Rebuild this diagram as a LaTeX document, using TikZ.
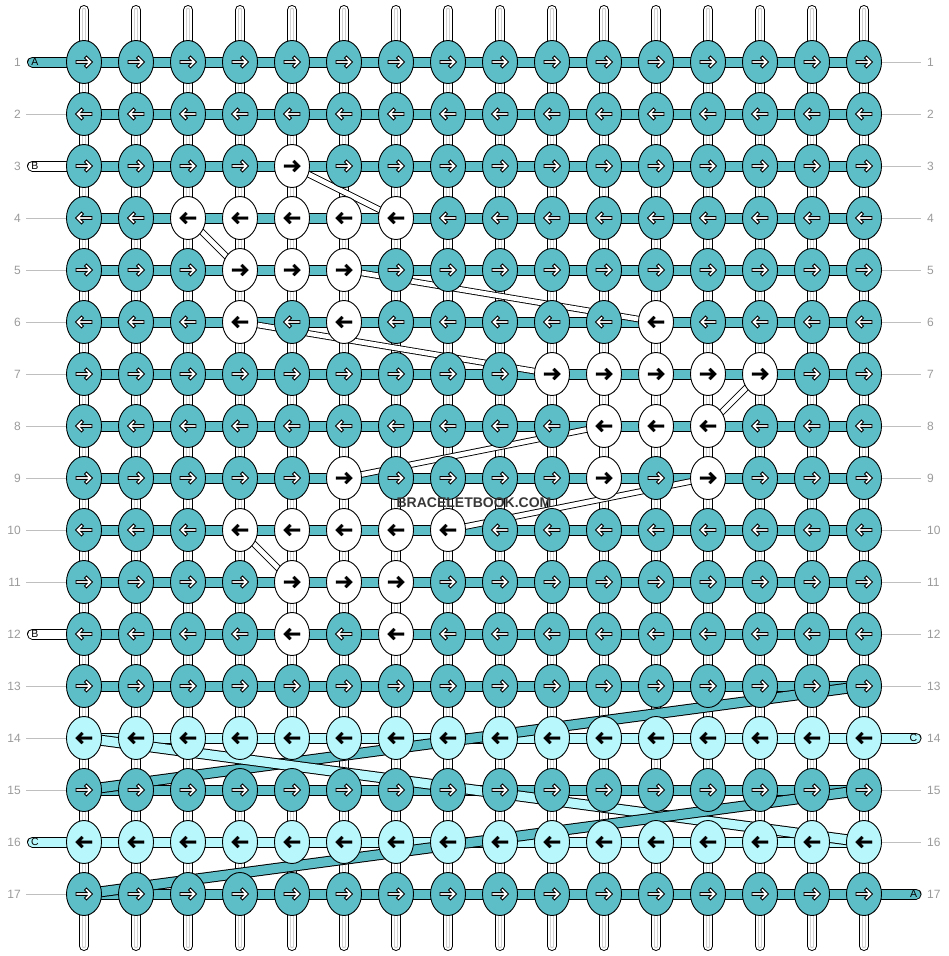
\documentclass[tikz,border=0pt]{standalone}
\usepackage{fontspec}
\setmainfont{Liberation Sans}
\usetikzlibrary{shapes.geometric,backgrounds}
\definecolor{knotteal}{HTML}{5EBEC8}
\definecolor{knotlight}{HTML}{B8F8FC}
\definecolor{numgrey}{HTML}{9A9A9A}
\tikzset{
  knot/.style={ellipse, draw=black, line width=0.9pt, minimum width=35pt, minimum height=43pt, inner sep=0pt},
  warp/.style={line width=10pt, line cap=round, black,
    postaction={draw=white, line width=8pt, line cap=round},
    postaction={draw=black!18, line width=4.6pt, line cap=round},
    postaction={draw=white, line width=2.6pt, line cap=round}},
  bar/.style={line width=11pt, black, postaction={draw=#1, line width=9pt}},
  tagbar/.style={line width=11pt, line cap=round, black, postaction={draw=#1, line width=9pt, line cap=round}},
  band/.style={line width=11pt, black, postaction={draw=#1, line width=9pt}},
  carry/.style={line width=6.5pt, black, postaction={draw=white, line width=4.7pt}},
  leader/.style={draw=black!25, line width=0.9pt},
  rownum/.style={text=numgrey, font=\fontsize{12}{12}\selectfont, inner sep=0pt},
  tag/.style={font=\fontsize{10.5}{10.5}\selectfont, inner sep=0pt},
  pics/fwd/.style={code={
    \filldraw[fill=#1, draw=black, line join=miter]
      (-8,-1.4) -- (3.14,-1.4) -- (0.52,-4.02) -- (2.5,-6) -- (8.5,0) -- (2.5,6) -- (0.52,4.02) -- (3.14,1.4) -- (-8,1.4) -- cycle;}}
}
\begin{document}
\begin{tikzpicture}[x=1pt,y=-1pt]
\useasboundingbox (0,0) rectangle (948,956);
\foreach \r/\base/\acol/\w in {1/knotteal/white/0, 2/knotteal/white/0, 3/knotteal/white/5,
    4/knotteal/white/{3,4,5,6,7}, 5/knotteal/white/{4,5,6}, 6/knotteal/white/{4,6,12},
    7/knotteal/white/{10,11,12,13,14}, 8/knotteal/white/{11,12,13}, 9/knotteal/white/{6,11,13},
    10/knotteal/white/{4,5,6,7,8}, 11/knotteal/white/{5,6,7}, 12/knotteal/white/{5,7},
    13/knotteal/white/0, 14/knotlight/black/0, 15/knotteal/white/0, 16/knotlight/black/0, 17/knotteal/white/0}{
  \foreach \col in {1,...,16}{
    \xdef\kfill{\base}\xdef\afill{\acol}\xdef\awid{0.9pt}
    \foreach \x in \w {\ifnum\x=\col\relax \xdef\kfill{white}\xdef\afill{black}\fi}
    \if b\afill\xdef\awid{0.2pt}\fi
    \node[knot, fill=\kfill] (k-\r-\col) at ({84+52*(\col-1)},{62+52*(\r-1)}) {};
    \ifodd\r \pic[line width=\awid] at (k-\r-\col) {fwd=\afill};
    \else \pic[xscale=-1, line width=\awid] at (k-\r-\col) {fwd=\afill}; \fi
  }
  \node[rownum, anchor=east] (nl-\r) at (21,{62+52*(\r-1)}) {\r};
  \node[rownum, anchor=west] (nr-\r) at (927,{62+52*(\r-1)}) {\r};
}
\foreach \r/\t in {1/A, 3/B, 12/B, 16/C}{
  \coordinate (tl-\r) at (32.5,{62+52*(\r-1)});
  \node[tag] (tg-\r) at (35,{62+52*(\r-1)}) {\t};
}
\foreach \r/\t in {14/C, 17/A}{
  \coordinate (tr-\r) at (916,{62+52*(\r-1)});
  \node[tag] (tg-\r) at (913.5,{62+52*(\r-1)}) {\t};
}
\node[font=\bfseries\fontsize{14}{14}\selectfont, text=black!78] (mark) at (474,503) {BRACELETBOOK.COM};

\begin{pgfonlayer}{background}
\foreach \col in {1,...,16}{
  \coordinate (wt-\col) at ({84+52*(\col-1)},10);
  \coordinate (wb-\col) at ({84+52*(\col-1)},946);
  \draw[warp] (wt-\col) -- (wb-\col);
}
\foreach \r in {2,4,5,6,7,8,9,10,11,13,14,15,17}
  \draw[leader, shorten <=5pt] (nl-\r.east) -- (k-\r-1.west);
\foreach \r in {1,2,3,4,5,6,7,8,9,10,11,12,13,15,16}
  \draw[leader, shorten >=6pt] (k-\r-16.east) -- (nr-\r.west);
\foreach \r/\bc in {1/knotteal,2/knotteal,3/knotteal,4/knotteal,5/knotteal,6/knotteal,7/knotteal,
    8/knotteal,9/knotteal,10/knotteal,11/knotteal,12/knotteal,13/knotteal,14/knotlight,15/knotteal,16/knotlight,17/knotteal}
  \draw[bar=\bc] (k-\r-1.center) -- (k-\r-16.center);
\draw[tagbar=knotteal] (tl-1) -- (k-1-1.center);
\draw[tagbar=white] (tl-3) -- (k-3-1.center);
\draw[tagbar=white] (tl-12) -- (k-12-1.center);
\draw[tagbar=knotlight] (tl-16) -- (k-16-1.center);
\draw[tagbar=knotlight] (k-14-16.center) -- (tr-14);
\draw[tagbar=knotteal] (k-17-16.center) -- (tr-17);
\draw[band=knotteal] (k-15-1.center) -- (k-13-16.center);
\draw[band=knotlight] (k-14-1.center) -- (k-16-16.center);
\draw[band=knotteal] (k-17-1.center) -- (k-15-16.center);
\foreach \a/\b in {3-5/4-7, 4-3/5-4, 5-6/6-12, 6-4/7-10, 7-14/8-13, 8-11/9-6, 9-13/10-8, 10-4/11-5}
  \draw[carry] (k-\a.center) -- (k-\b.center);
\end{pgfonlayer}
\end{tikzpicture}
\end{document}
